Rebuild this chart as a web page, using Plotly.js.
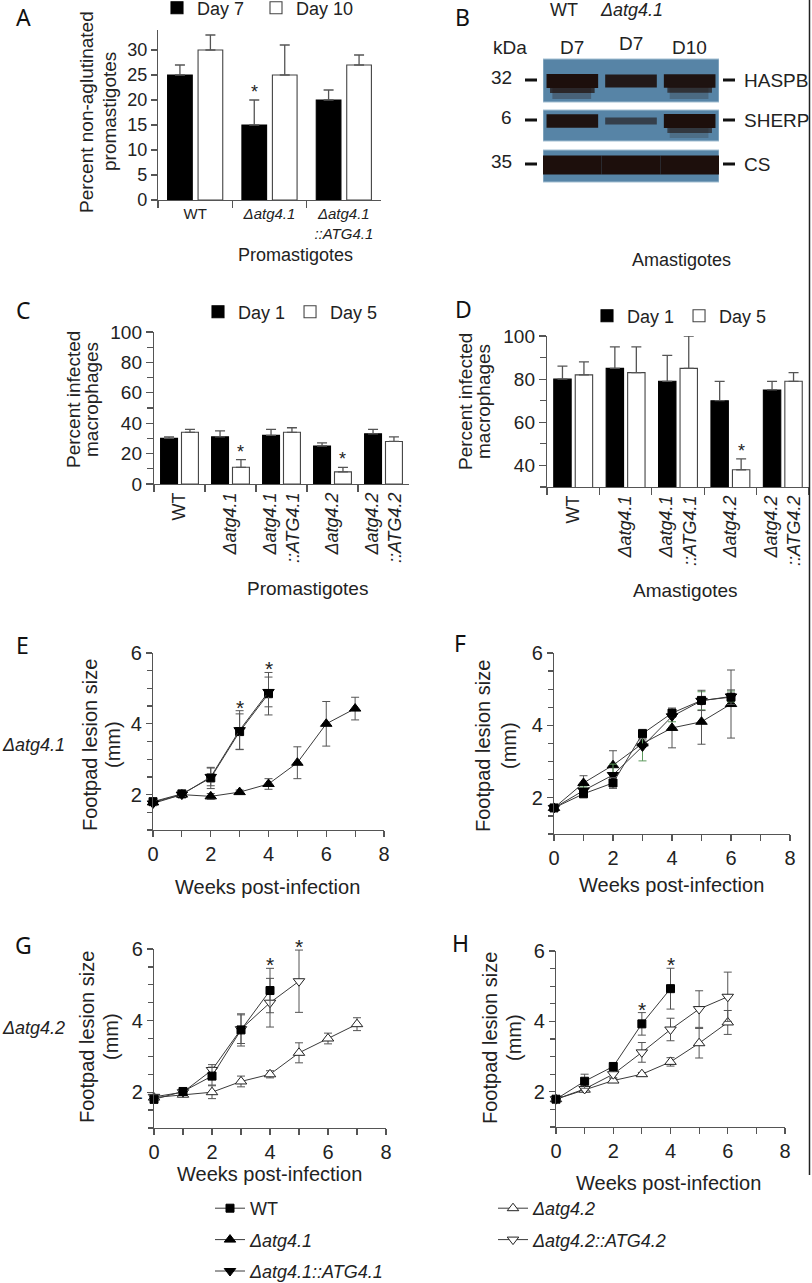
<!DOCTYPE html>
<html><head><meta charset="utf-8">
<script src="https://cdn.plot.ly/plotly-3.0.1.min.js"></script>
<style>html,body{margin:0;padding:0;background:#fff}</style>
</head><body><div id="chart" style="width:812px;height:1283px"></div>
<script>
// ================= DATA =================
// Panel A: agglutination of promastigotes
const catsA = ['WT', '<i>Δatg4.1</i>', '<i>Δatg4.1</i><br><i>::ATG4.1</i>'];
const aggDay7 = [25, 15, 20];
const aggDay7Err = [2, 5, 2];
const aggDay10 = [30, 25, 27];
const aggDay10Err = [3, 6, 2];
const sigDay7A = [0, 1, 0];
const sigDay10A = [0, 0, 0];

// Panels C / D: infected macrophages
const catsCD = ['WT', '<i>Δatg4.1</i>', '<i>Δatg4.1</i><br><i>::ATG4.1</i>', '<i>Δatg4.2</i>', '<i>Δatg4.2</i><br><i>::ATG4.2</i>'];
const promDay1 = [30, 31, 32, 25, 33];
const promDay1Err = [1, 4, 4, 2, 3];
const promDay5 = [34, 11, 34, 8, 28];
const promDay5Err = [2, 5, 3, 3, 3];
const sigPromDay5 = [0, 1, 0, 1, 0];
const amaDay1 = [80, 85, 79, 70, 75];
const amaDay1Err = [6, 10, 12, 9, 4];
const amaDay5 = [82, 83, 85, 38, 79];
const amaDay5Err = [6, 12, 15, 5, 4];
const sigAmaDay5 = [0, 0, 0, 1, 0];

// Panel B: western blot (relative band signal per lane)
const blotLanes = ['D7', 'D7', 'D10'];
const blotProteins = ['HASPB', 'SHERP', 'CS'];
const blotKDa = ['32', '6', '35'];
const haspbSignal = [1.0, 0.85, 0.95];
const sherpSignal = [0.95, 0.25, 1.0];
const csSignal = [1.0, 1.0, 1.0];
const haspbSmear = [0.45, 0.0, 0.35];
const sherpSmear = [0.0, 0.0, 0.3];
const csSmear = [0.0, 0.0, 0.0];

// Panel E
const weeksE_WT = [0, 1, 2, 3, 4];
const lesionE_WT = [1.80, 2.02, 2.47, 3.78, 4.85];
const errE_WT = [0.05, 0.05, 0.30, 0.50, 0.60];
const weeksE_C41 = [0, 1, 2, 3, 4];
const lesionE_C41 = [1.75, 2.00, 2.50, 3.82, 4.90];
const errE_C41 = [0.05, 0.05, 0.25, 0.55, 0.42];
const weeksE_D41 = [0, 1, 2, 3, 4, 5, 6, 7];
const lesionE_D41 = [1.78, 2.00, 1.95, 2.07, 2.30, 2.90, 4.00, 4.43];
const errE_D41 = [0.05, 0.05, 0.08, 0.06, 0.15, 0.45, 0.63, 0.32];
const starWeeksE = [3, 4];

// Panel F
const weeksF = [0, 1, 2, 3, 4, 5, 6];
const lesionF_WT = [1.72, 2.11, 2.41, 3.77, 4.34, 4.69, 4.78];
const errF_WT = [0.05, 0.08, 0.15, 0.12, 0.10, 0.28, 0.20];
const lesionF_D41 = [1.72, 2.41, 2.90, 3.50, 3.93, 4.10, 4.59];
const errF_D41 = [0.05, 0.20, 0.40, 0.10, 0.55, 0.62, 0.94];
const lesionF_C41 = [1.72, 2.20, 2.63, 3.42, 4.25, 4.68, 4.80];
const errF_C41 = [0.05, 0.10, 0.30, 0.40, 0.15, 0.25, 0.15];

// Panel G
const weeksG_WT = [0, 1, 2, 3, 4];
const lesionG_WT = [1.80, 2.02, 2.45, 3.74, 4.84];
const errG_WT = [0.05, 0.05, 0.25, 0.45, 0.62];
const weeksG_C42 = [0, 1, 2, 3, 4, 5];
const lesionG_C42 = [1.87, 2.00, 2.62, 3.76, 4.50, 5.10];
const errG_C42 = [0.05, 0.05, 0.15, 0.40, 0.68, 0.87];
const weeksG_D42 = [0, 1, 2, 3, 4, 5, 6, 7];
const lesionG_D42 = [1.85, 1.93, 2.00, 2.30, 2.50, 3.10, 3.50, 3.90];
const errG_D42 = [0.05, 0.05, 0.18, 0.15, 0.10, 0.28, 0.15, 0.18];
const starWeeksG = [4, 5];

// Panel H
const weeksH_WT = [0, 1, 2, 3, 4];
const lesionH_WT = [1.79, 2.30, 2.72, 3.93, 4.93];
const errH_WT = [0.05, 0.20, 0.08, 0.32, 0.58];
const weeksH = [0, 1, 2, 3, 4, 5, 6];
const lesionH_C42 = [1.79, 2.08, 2.50, 3.12, 3.77, 4.35, 4.70];
const errH_C42 = [0.05, 0.05, 0.10, 0.28, 0.32, 0.52, 0.70];
const lesionH_D42 = [1.79, 2.06, 2.32, 2.50, 2.85, 3.38, 3.97];
const errH_D42 = [0.05, 0.05, 0.05, 0.05, 0.12, 0.42, 0.34];
const starWeeksH = [3, 4];

// ================= LAYOUT HELPERS =================
const W = 812, H = 1283;
const px = v => v / W;
const py = v => 1 - v / H;
const FONT = 'Liberation Sans, Arial, sans-serif';
const LETTER_FONT = 'Noto Sans, Open Sans, sans-serif';
const AX = '#555';
const TXT = '#222';
const BARGAP = 0.18;
const BAR_OFF = (1 - BARGAP) / 4;

function domX(a, b) { return [px(a), px(b)]; }
function domY(top, bottom) { return [py(bottom), py(top)]; }

function catAxis(dx, anchor, n, fs, angle) {
  return {
    domain: dx, anchor, type: 'category', range: [-0.5, n - 0.5],
    showline: true, linecolor: AX, linewidth: 1.2, ticks: 'outside', tickson: 'boundaries',
    ticklen: 7, tickcolor: AX, tickwidth: 1.2, tickangle: angle,
    tickfont: {family: FONT, size: fs, color: TXT}, showgrid: false, zeroline: false, fixedrange: true
  };
}
function valAxis(dy, anchor, range, tick0, dtick, minor, fs, ticklen) {
  const a = {
    domain: dy, anchor, range, tick0, dtick, showline: true, linecolor: AX, linewidth: 1.2,
    ticks: 'outside', ticklen: ticklen, tickcolor: AX, tickwidth: 1.2,
    tickfont: {family: FONT, size: fs, color: TXT}, showgrid: false, zeroline: false, fixedrange: true
  };
  if (minor) a.minor = {dtick: minor, ticks: 'outside', ticklen: ticklen - 1, tickcolor: AX, tickwidth: 1.2, showgrid: false};
  return a;
}
function weekAxis(dx, anchor) {
  return {
    domain: dx, anchor, range: [0, 8], tick0: 0, dtick: 2, showline: true, linecolor: AX, linewidth: 1.2,
    ticks: 'outside', ticklen: 6, tickcolor: AX, tickwidth: 1.2,
    minor: {dtick: 1, ticks: 'outside', ticklen: 6, tickcolor: AX, tickwidth: 1.2, showgrid: false},
    tickfont: {family: FONT, size: 20, color: TXT}, showgrid: false, zeroline: false, fixedrange: true
  };
}

const traces = [];
const annotations = [];
const shapes = [];

function barTrace(xa, ya, cats, vals, errs, dark, name, legend) {
  traces.push({
    type: 'bar', x: cats, y: vals, xaxis: xa, yaxis: ya, name, legend,
    marker: {color: dark ? '#000000' : '#ffffff', line: {color: dark ? '#000000' : '#444444', width: 1.1}},
    error_y: {type: 'data', array: errs, arrayminus: errs.map(() => 0), symmetric: false,
      color: '#555555', thickness: 1.3, width: 5},
    hoverinfo: 'skip', showlegend: true
  });
}
function barStars(xa, ya, vals, errs, sig, offset) {
  sig.forEach((s, i) => {
    if (!s) return;
    annotations.push({xref: xa, yref: ya, x: i + offset, y: vals[i] + errs[i], text: '*',
      showarrow: false, yanchor: 'bottom', yshift: -4, font: {family: FONT, size: 18, color: TXT}});
  });
}

const STY = {
  WT: {symbol: 'square', size: 8, color: '#000', line: {color: '#000', width: 1}},
  D41: {symbol: 'triangle-up', size: 10, color: '#000', line: {color: '#000', width: 1}},
  C41: {symbol: 'triangle-down', size: 10, color: '#000', line: {color: '#000', width: 1}},
  D42: {symbol: 'triangle-up', size: 10, color: '#fff', line: {color: '#222', width: 1}},
  C42: {symbol: 'triangle-down', size: 10, color: '#fff', line: {color: '#222', width: 1}}
};
function lineTrace(xa, ya, wk, vals, errs, sty, name, legend, show, errColor) {
  traces.push({
    type: 'scatter', mode: 'lines+markers', x: wk, y: vals, xaxis: xa, yaxis: ya, name,
    legend: legend || 'legend4', legendgroup: name, showlegend: !!show,
    line: {color: '#3a3a3a', width: 1}, marker: sty, cliponaxis: false,
    error_y: {type: 'data', array: errs, color: errColor || '#555555', thickness: 1, width: 4},
    hoverinfo: 'skip'
  });
}
function lineStars(xa, ya, weeks, seriesList) {
  weeks.forEach(w => {
    let top = -Infinity;
    seriesList.forEach(s => {
      const i = s[0].indexOf(w);
      if (i >= 0) top = Math.max(top, s[1][i] + s[2][i]);
    });
    annotations.push({xref: xa, yref: ya, x: w, y: top, text: '*', showarrow: false,
      yanchor: 'bottom', yshift: -10, font: {family: FONT, size: 21, color: TXT}});
  });
}

// ================= PANEL A =================
barTrace('x', 'y', catsA, aggDay7, aggDay7Err, true, 'Day 7', 'legend');
barTrace('x', 'y', catsA, aggDay10, aggDay10Err, false, 'Day 10', 'legend');
barStars('x', 'y', aggDay7, aggDay7Err, sigDay7A, -BAR_OFF);
barStars('x', 'y', aggDay10, aggDay10Err, sigDay10A, BAR_OFF);

// ================= PANEL C =================
barTrace('x2', 'y2', catsCD, promDay1, promDay1Err, true, 'Day 1', 'legend2');
barTrace('x2', 'y2', catsCD, promDay5, promDay5Err, false, 'Day 5', 'legend2');
barStars('x2', 'y2', promDay5, promDay5Err, sigPromDay5, BAR_OFF);

// ================= PANEL D =================
barTrace('x3', 'y3', catsCD, amaDay1, amaDay1Err, true, 'Day 1', 'legend3');
barTrace('x3', 'y3', catsCD, amaDay5, amaDay5Err, false, 'Day 5', 'legend3');
barStars('x3', 'y3', amaDay5, amaDay5Err, sigAmaDay5, BAR_OFF);

// ================= PANEL E =================
const N_WT = 'WT', N_D41 = '<i>Δatg4.1</i>', N_C41 = '<i>Δatg4.1::ATG4.1</i>';
const N_D42 = '<i>Δatg4.2</i>', N_C42 = '<i>Δatg4.2::ATG4.2</i>';
lineTrace('x4', 'y4', weeksE_WT, lesionE_WT, errE_WT, STY.WT, N_WT, 'legend4', true);
lineTrace('x4', 'y4', weeksE_D41, lesionE_D41, errE_D41, STY.D41, N_D41, 'legend4', true);
lineTrace('x4', 'y4', weeksE_C41, lesionE_C41, errE_C41, STY.C41, N_C41, 'legend4', true);
lineStars('x4', 'y4', starWeeksE, [[weeksE_WT, lesionE_WT, errE_WT], [weeksE_C41, lesionE_C41, errE_C41]]);

// ================= PANEL F =================
lineTrace('x5', 'y5', weeksF, lesionF_D41, errF_D41, STY.D41, N_D41, 'legend4', false);
lineTrace('x5', 'y5', weeksF, lesionF_C41, errF_C41, STY.C41, N_C41, 'legend4', false, '#5d9a5d');
lineTrace('x5', 'y5', weeksF, lesionF_WT, errF_WT, STY.WT, N_WT, 'legend4', false);

// ================= PANEL G =================
lineTrace('x6', 'y6', weeksG_D42, lesionG_D42, errG_D42, STY.D42, N_D42, 'legend5', true);
lineTrace('x6', 'y6', weeksG_C42, lesionG_C42, errG_C42, STY.C42, N_C42, 'legend5', true);
lineTrace('x6', 'y6', weeksG_WT, lesionG_WT, errG_WT, STY.WT, N_WT, 'legend4', false);
lineStars('x6', 'y6', starWeeksG, [[weeksG_WT, lesionG_WT, errG_WT], [weeksG_C42, lesionG_C42, errG_C42]]);

// ================= PANEL H =================
lineTrace('x7', 'y7', weeksH, lesionH_D42, errH_D42, STY.D42, N_D42, 'legend5', false);
lineTrace('x7', 'y7', weeksH, lesionH_C42, errH_C42, STY.C42, N_C42, 'legend5', false);
lineTrace('x7', 'y7', weeksH_WT, lesionH_WT, errH_WT, STY.WT, N_WT, 'legend4', false);
lineStars('x7', 'y7', starWeeksH, [[weeksH_WT, lesionH_WT, errH_WT]]);

// ================= PANEL B (blot) =================
// lane axis x8 (one unit per lane), rows laid out in page pixels
const rowTop = [59, 110, 150], rowBot = [102, 141, 182], bandY = [81, 121, 165], bandHalf = [7, 7, 9.5];
const signals = [haspbSignal, sherpSignal, csSignal];
const smears = [haspbSmear, sherpSmear, csSmear];
traces.push({type: 'scatter', x: [0, blotLanes.length], y: [0, 1], xaxis: 'x8', yaxis: 'y8', mode: 'markers',
  marker: {opacity: 0}, showlegend: false, hoverinfo: 'skip'});
blotProteins.forEach((p, r) => {
  shapes.push({type: 'rect', xref: 'x8', yref: 'paper', x0: 0, x1: blotLanes.length,
    y0: py(rowBot[r]), y1: py(rowTop[r]), fillcolor: '#5784a6', line: {color: '#a3bfd2', width: 1}, layer: 'above'});
  signals[r].forEach((s, i) => {
    const h = bandHalf[r] * Math.sqrt(s);
    const x0 = r === 2 ? i + 0.0 : i + 0.06, x1 = r === 2 ? i + 1.0 : i + 0.94;
    if (smears[r][i] > 0) {
      shapes.push({type: 'rect', xref: 'x8', yref: 'paper', x0: x0 + 0.1, x1: x1 - 0.12,
        y0: py(rowBot[r] - 3), y1: py(bandY[r] + h - 1), fillcolor: '#2a1a16', opacity: smears[r][i] * 0.7,
        line: {width: 0}, layer: 'above'});
      shapes.push({type: 'rect', xref: 'x8', yref: 'paper', x0: x0 + 0.06, x1: x1 - 0.06,
        y0: py(bandY[r] + h + 5), y1: py(bandY[r] + h - 1), fillcolor: '#221410', opacity: smears[r][i] + 0.3,
        line: {width: 0}, layer: 'above'});
    }
    shapes.push({type: 'rect', xref: 'x8', yref: 'paper', x0, x1,
      y0: py(bandY[r] + h), y1: py(bandY[r] - h), fillcolor: '#1d0f0c', opacity: 0.45 + 0.55 * s,
      line: {width: 0}, layer: 'above'});
  });
  // marker dashes
  shapes.push({type: 'line', xref: 'paper', yref: 'paper', x0: px(525), x1: px(537), y0: py(bandY[r] - 1), y1: py(bandY[r] - 1),
    line: {color: '#111', width: 3}});
  shapes.push({type: 'line', xref: 'paper', yref: 'paper', x0: px(723), x1: px(735), y0: py(bandY[r] - 1), y1: py(bandY[r] - 1),
    line: {color: '#111', width: 3}});
  annotations.push({xref: 'paper', yref: 'paper', x: px(514), y: py(bandY[r] - 3), text: blotKDa[r], xanchor: 'right',
    yanchor: 'middle', showarrow: false, font: {family: FONT, size: 19, color: TXT}});
  annotations.push({xref: 'paper', yref: 'paper', x: px(742), y: py(bandY[r] - 1), text: p, xanchor: 'left',
    yanchor: 'middle', showarrow: false, font: {family: FONT, size: 19, color: TXT}});
});
blotLanes.forEach((l, i) => {
  annotations.push({xref: 'x8', yref: 'paper', x: i + 0.5, y: py(i === 1 ? 44 : 47), text: l, showarrow: false,
    yanchor: 'middle', font: {family: FONT, size: 19, color: TXT}});
});
annotations.push({xref: 'paper', yref: 'paper', x: px(510), y: py(47), text: 'kDa', showarrow: false,
  yanchor: 'middle', font: {family: FONT, size: 19, color: TXT}});
annotations.push({xref: 'paper', yref: 'paper', x: px(580), y: 1, text: 'WT', showarrow: false,
  yanchor: 'top', yshift: 2, font: {family: FONT, size: 18, color: TXT}});
annotations.push({xref: 'paper', yref: 'paper', x: px(665), y: 1, text: '<i>Δatg4.1</i>', showarrow: false,
  yanchor: 'top', yshift: 2, font: {family: FONT, size: 18, color: TXT}});

// ================= TEXT: letters, titles =================
function txt(x, y, text, size, opts) {
  annotations.push(Object.assign({xref: 'paper', yref: 'paper', x: px(x), y: py(y), text, showarrow: false,
    xanchor: 'center', yanchor: 'middle', font: {family: FONT, size, color: TXT}}, opts || {}));
}
[['A', 23, 17], ['B', 462, 17], ['C', 23, 310], ['D', 463, 309], ['E', 22, 645], ['F', 460, 643], ['G', 23, 945], ['H', 460, 943]]
  .forEach(l => txt(l[1], l[2], l[0], 23, {font: {family: LETTER_FONT, size: 23, color: '#111'}}));

function ytitle(lines, xs, yc, size) {
  lines.forEach((t, i) => txt(xs[i], yc, t, size, {textangle: -90}));
}
ytitle(['Percent non-aglutinated', 'promastigotes'], [87, 110], 112, 19);
ytitle(['Percent infected', 'macrophages'], [73, 91], 400, 19);
ytitle(['Percent infected', 'macrophages'], [465, 483], 402, 19);
ytitle(['Footpad lesion size', '(mm)'], [90, 113], 745, 20);
ytitle(['Footpad lesion size', '(mm)'], [483, 509], 746, 20);
ytitle(['Footpad lesion size', '(mm)'], [87, 111], 1037, 20);
ytitle(['Footpad lesion size', '(mm)'], [490, 514], 1038, 20);

txt(295, 255, 'Promastigotes', 18);
txt(681, 260, 'Amastigotes', 18);
txt(307, 588, 'Promastigotes', 19);
txt(685, 590, 'Amastigotes', 19);
txt(267, 887, 'Weeks post-infection', 20);
txt(671, 885, 'Weeks post-infection', 20);
txt(269, 1174, 'Weeks post-infection', 20);
txt(668, 1183, 'Weeks post-infection', 20);
txt(67, 745, '<i>Δatg4.1</i>', 18, {xanchor: 'right'});
txt(67, 1028, '<i>Δatg4.2</i>', 18, {xanchor: 'right'});

// right border line
shapes.push({type: 'line', xref: 'paper', yref: 'paper', x0: px(809.5), x1: px(809.5), y0: py(0), y1: py(1175),
  line: {color: '#222', width: 1.5}});

// ================= LAYOUT =================
const legendBase = {orientation: 'h', xanchor: 'left', yanchor: 'middle', bgcolor: 'rgba(0,0,0,0)',
  font: {family: FONT, size: 18, color: TXT}, itemwidth: 30, traceorder: 'normal', borderwidth: 0};
const layout = {
  width: W, height: H, margin: {l: 0, r: 0, t: 0, b: 0, pad: 0, autoexpand: false},
  paper_bgcolor: '#fff', plot_bgcolor: 'rgba(0,0,0,0)',
  bargap: BARGAP, bargroupgap: 0.19, barmode: 'group', font: {family: FONT, color: TXT},
  xaxis: catAxis(domX(158, 381), 'y', 3, 15, 0),
  yaxis: valAxis(domY(30, 200), 'x', [0, 34], 0, 5, null, 18, 6),
  xaxis2: catAxis(domX(154, 409), 'y2', 5, 18, -90),
  yaxis2: valAxis(domY(332, 484), 'x2', [0, 100], 0, 20, 10, 19, 7),
  xaxis3: catAxis(domX(547, 809), 'y3', 5, 18, -90),
  yaxis3: valAxis(domY(336, 487), 'x3', [30, 100], 0, 20, 10, 19, 7),
  xaxis4: weekAxis(domX(153, 384), 'y4'),
  yaxis4: valAxis(domY(653, 830), 'x4', [1, 6], 0, 2, 0.5, 20, 6),
  xaxis5: weekAxis(domX(554, 790), 'y5'),
  yaxis5: valAxis(domY(653, 834), 'x5', [1, 6], 0, 2, 0.5, 20, 6),
  xaxis6: weekAxis(domX(154, 386), 'y6'),
  yaxis6: valAxis(domY(949, 1128), 'x6', [1, 6], 0, 2, 0.5, 20, 6),
  xaxis7: weekAxis(domX(556, 785), 'y7'),
  yaxis7: valAxis(domY(951, 1127), 'x7', [1, 6], 0, 2, 0.5, 20, 6),
  xaxis8: {domain: domX(543, 719), anchor: 'y8', range: [0, blotLanes.length], visible: false, fixedrange: true},
  yaxis8: {domain: domY(59, 182), anchor: 'x8', range: [0, 1], visible: false, fixedrange: true},
  legend: Object.assign({}, legendBase, {x: px(157), y: py(8), entrywidth: 54}),
  legend2: Object.assign({}, legendBase, {x: px(198), y: py(312)}),
  legend3: Object.assign({}, legendBase, {x: px(587), y: py(316)}),
  legend4: Object.assign({}, legendBase, {orientation: 'v', x: px(210), y: py(1190), yanchor: 'top', traceorder: 'grouped', tracegroupgap: 5}),
  legend5: Object.assign({}, legendBase, {orientation: 'v', x: px(493), y: py(1190), yanchor: 'top', traceorder: 'grouped', tracegroupgap: 5}),
  annotations, shapes, showlegend: true
};

Plotly.newPlot('chart', traces, layout, {displayModeBar: false, staticPlot: true});
</script>
</body></html>
